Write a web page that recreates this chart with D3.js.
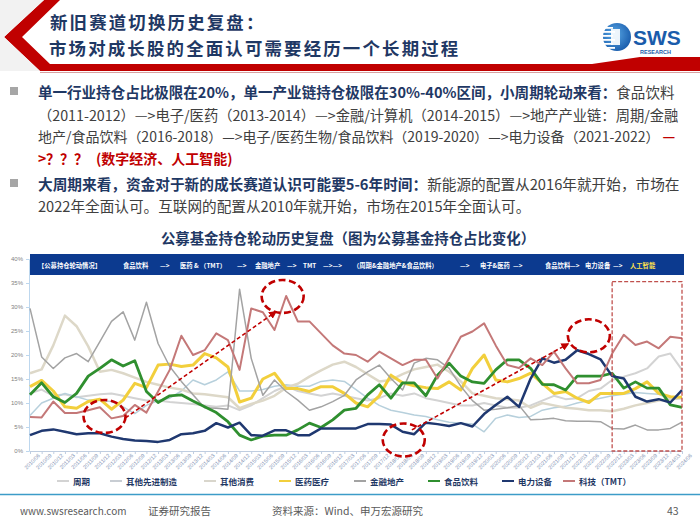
<!DOCTYPE html>
<html><head><meta charset="utf-8">
<script src="https://cdn.jsdelivr.net/npm/d3@7"></script>
<style>
body{margin:0;background:#fff;}
svg{display:block;font-family:"Noto Sans CJK SC","Noto Sans",sans-serif;}
</style></head><body>
<svg id="s" width="700" height="525"></svg>
<script>
// ---------------- DATA ----------------
const dates = ["2010/06","2010/09","2010/12",
"2011/03","2011/06","2011/09","2011/12","2012/03","2012/06","2012/09","2012/12",
"2013/03","2013/06","2013/09","2013/12","2014/03","2014/06","2014/09","2014/12",
"2015/03","2015/06","2015/09","2015/12","2016/03","2016/06","2016/09","2016/12",
"2017/03","2017/06","2017/09","2017/12","2018/03","2018/06","2018/09","2018/12",
"2019/03","2019/06","2019/09","2019/12","2020/03","2020/06","2020/09","2020/12",
"2021/03","2021/06","2021/09","2021/12","2022/03","2022/06","2022/09","2022/12",
"2023/03","2023/06","2023/09","2023/12","2024/03","2024/06"];

const seriesNames = ["周期","其他先进制造","其他消费","医药医疗","金融地产","食品饮料","电力设备","科技（TMT）"];

const cyclical = [12.0,12.8,11.5,11.8,11.2,11.5,11.8,12.0,11.5,11.0,
10.5,10.5,10.2,10.0,9.8,9.5,9.2,9.5,8.5,9.5,
11.0,12.5,13.5,12.5,12.0,11.5,12.0,11.5,11.0,10.5,
11.0,12.0,11.5,12.0,11.0,10.5,10.0,9.5,9.5,10.0,
9.5,9.0,9.0,9.5,10.5,11.5,10.8,11.0,12.5,13.0,
14.8,15.5,16.2,17.2,19.7,20.3,16.9];
const advancedMfg = [7.4,10.0,11.0,12.0,11.3,10.6,10.5,10.3,9.2,7.8,
9.5,10.5,11.0,12.5,14.8,13.8,14.8,16.5,12.5,12.5,
12.8,13.5,13.8,13.5,13.5,14.5,14.8,14.5,12.8,11.0,
9.5,8.5,8.0,7.5,7.2,6.5,6.0,5.8,5.6,4.0,
6.8,7.5,7.0,7.2,8.5,9.0,9.3,10.0,10.5,11.0,
11.5,11.8,12.2,12.0,11.8,10.8,11.2];
const otherConsumer = [16.2,17.0,22.0,28.2,26.0,21.8,16.5,16.9,16.2,15.3,
14.4,13.8,13.2,12.8,12.0,11.8,11.5,11.2,8.9,9.8,
10.5,11.5,13.2,14.0,15.5,16.8,18.0,18.6,17.5,16.0,
14.5,14.8,16.0,17.0,17.5,18.0,16.5,14.5,12.0,11.5,
11.0,10.8,10.5,9.0,10.0,9.5,9.0,8.8,8.5,8.5,
8.3,8.8,9.5,10.0,10.5,10.8,11.0];
const pharma = [13.4,14.7,12.5,9.2,8.9,10.3,10.8,8.7,10.6,14.1,
13.2,17.9,18.1,17.6,17.9,20.3,19.4,17.5,10.2,11.0,
15.0,16.2,13.0,13.0,12.4,13.4,13.4,12.0,10.0,9.2,
11.5,15.8,14.2,13.6,13.2,13.0,14.4,12.7,17.2,20.0,
14.8,14.4,15.1,16.2,14.1,12.0,12.4,11.0,10.1,12.0,
12.0,12.0,13.0,14.4,12.0,11.3,11.2];
const finance = [29.7,19.6,17.2,19.4,20.3,18.6,22.8,27.0,29.0,23.1,
31.0,22.4,17.6,14.5,11.7,9.0,8.9,8.7,33.7,19.3,
11.6,14.8,12.4,10.6,8.5,9.2,10.3,11.6,14.8,16.5,
17.9,15.1,12.7,18.3,19.3,19.0,17.2,13.5,10.5,8.5,
8.7,9.0,9.5,6.5,6.6,6.8,6.3,6.2,6.2,6.1,
4.7,4.6,5.4,4.4,4.4,4.7,6.0];
const foodBev = [11.7,14.2,11.3,10.1,12.0,15.6,17.2,19.0,17.7,18.8,
12.4,10.1,11.5,11.7,10.4,9.2,8.0,6.1,3.3,2.3,
3.1,3.3,3.3,4.4,5.8,4.9,6.5,8.5,8.9,11.7,
13.8,11.0,14.2,14.2,11.5,15.8,18.3,15.6,14.4,14.1,
16.9,19.0,19.0,17.2,13.9,13.8,12.7,15.6,15.6,15.6,
16.2,13.1,14.4,13.1,13.1,9.6,9.1];
const powerEquip = [3.3,4.2,4.5,4.0,3.5,3.7,3.7,3.0,2.5,2.2,
2.1,1.9,2.3,3.5,3.7,4.2,5.8,4.9,5.9,3.3,
3.2,4.3,4.3,3.3,3.3,4.7,4.7,4.7,4.7,5.6,
5.6,5.5,4.0,3.5,5.9,5.6,5.2,5.8,5.1,7.7,
9.6,11.3,9.2,15.1,19.3,18.4,19.0,21.0,20.2,19.1,
15.6,15.1,11.3,10.3,10.8,10.1,12.7];
const tmt = [7.1,7.0,10.3,7.9,7.9,8.5,9.1,6.8,7.3,9.6,
8.0,12.4,16.9,24.0,20.0,21.0,24.5,23.1,16.9,29.7,
28.9,25.2,32.3,27.0,27.0,24.5,22.0,20.3,20.0,18.6,
20.7,19.3,17.9,19.0,19.0,15.1,19.3,23.8,24.9,26.6,
22.0,17.9,17.3,19.3,17.9,20.7,17.2,14.1,14.1,14.8,
20.3,24.2,22.1,22.8,21.4,23.8,23.5];

const yTicks = [0,5,10,15,20,25,30,35,40];
const rotationSteps = ["【公募持仓轮动情况】","食品饮料","—>","医药 & （TMT）","—>","金融地产","—>","TMT","—>—>","（周期&金融地产&食品饮料）","—>","电子&医药","—>","食品饮料","—>","电力设备","—>","人工智能"];

// ---------------- STYLE / LAYOUT ----------------
const svg = d3.select("#s");
const NAVY = "#1f3864", RED = "#c00000", TXT = "#404040";
const seriesData = [cyclical, advancedMfg, otherConsumer, pharma, finance, foodBev, powerEquip, tmt];
const colors = ["#d3d3d3","#b7d0dc","#ddd8c8","#f2cf3c","#a3a3a3","#2f8f2f","#1f3870","#c47878"];
const widths = [2,1.5,2.5,3,1.5,2.8,2.5,2];
const legendColors = ["#d3d3d3","#c8cdd3","#d9d6cc","#f2cf3c","#a3a3a3","#2f8f2f","#1f3870","#c47878"];

// header graphics
svg.append("polygon")
  .attr("points","44,0 60,0 22,37 50,64 592,64 640,57 700,57 700,71 40,71 4,37")
  .attr("fill","#c00000");
svg.append("polygon").attr("points","0,0 44,0 4,37 40,71 0,71").attr("fill","#f2f2f2");
svg.append("line").attr("x1",40).attr("x2",700).attr("y1",72.5).attr("y2",72.5).attr("stroke","#d9a0a0").attr("stroke-width",1);

svg.append("text").attr("x",50).attr("y",21).attr("dominant-baseline","central")
  .attr("font-size",17.4).attr("letter-spacing",2.2).attr("font-weight","bold").attr("fill",NAVY).text("新旧赛道切换历史复盘：");
svg.append("text").attr("x",49).attr("y",47.5).attr("dominant-baseline","central")
  .attr("font-size",17.4).attr("letter-spacing",2.2).attr("font-weight","bold").attr("fill",NAVY).text("市场对成长股的全面认可需要经历一个长期过程");

// logo
const logo = svg.append("g");
const grad = svg.append("defs").append("radialGradient").attr("id","lg").attr("cx","40%").attr("cy","40%").attr("r","70%");
grad.append("stop").attr("offset","0%").attr("stop-color","#5aa9e6");
grad.append("stop").attr("offset","100%").attr("stop-color","#1456a8");
logo.append("circle").attr("cx",617).attr("cy",37).attr("r",14).attr("fill","url(#lg)");
[27,31,35,39,43,47].forEach((yy,k)=>{
  logo.append("rect").attr("x",603).attr("y",yy).attr("width",10+ (k%2)*2).attr("height",1.8).attr("fill","#fff");
});
logo.append("rect").attr("x",611).attr("y",29).attr("width",9).attr("height",16).attr("fill","#fff").attr("opacity",0.9);
logo.append("text").attr("x",633).attr("y",45).attr("font-size",21).attr("font-weight","bold")
  .attr("fill","#1a5cab").attr("font-family","Liberation Sans, Arial, sans-serif").text("SWS");
logo.append("text").attr("x",640).attr("y",54).attr("font-size",5.5).attr("font-weight","bold")
  .attr("fill","#1a5cab").attr("font-family","Liberation Sans, Arial, sans-serif").text("RESEARCH");

// bullets
const FS = 14;
function bullet(yy){ svg.append("rect").attr("x",10).attr("y",yy-4).attr("width",8).attr("height",8).attr("fill","#a6a6a6"); }
bullet(91); bullet(183);
function line(yy, parts, right){
  const t = svg.append("text").attr("x",38).attr("y",yy).attr("dominant-baseline","central").attr("font-size",FS);
  parts.forEach(p=>{
    const ts = t.append("tspan").attr("fill",p.c||TXT).attr("font-weight",p.b?"bold":"normal").text(p.t);
    if(p.x!==undefined) ts.attr("x",p.x);
  });
  if(right){
    const bb = t.node().getBBox();
    if(bb.width>0){ t.attr("font-size", FS * (right-38)/bb.width); }
  }
  return t;
}
line(91,[{t:"单一行业持仓占比极限在20%，单一产业链持仓极限在30%-40%区间，小周期轮动来看：",b:1,c:NAVY},{t:"食品饮料"}],675);
line(114,[{t:"（2011-2012）—>电子/医药（2013-2014）—>金融/计算机（2014-2015）—>地产产业链：周期/金融"}],679);
line(136,[{t:"地产/食品饮料（2016-2018）—>电子/医药生物/食品饮料（2019-2020）—>电力设备（2021-2022）"},{t:" —",b:1,c:RED}],676);
line(158,[{t:">",b:1,c:RED,x:38},{t:"？？？",b:1,c:RED,x:46},{t:"(数字经济、人工智能)",b:1,c:RED,x:96}]);
line(183,[{t:"大周期来看，资金对于新的成长赛道认识可能要5-6年时间：",b:1,c:NAVY},{t:"新能源的配置从2016年就开始，市场在"}],680);
line(205,[{t:"2022年全面认可。互联网的配置从2010年就开始，市场在2015年全面认可。"}],531);

// chart title
svg.append("text").attr("x",348).attr("y",237.5).attr("text-anchor","middle").attr("dominant-baseline","central")
  .attr("font-size",14.4).attr("font-weight","bold").attr("fill",NAVY).text("公募基金持仓轮动历史复盘（图为公募基金持仓占比变化）");

// ---------------- CHART ----------------
const x = d3.scalePoint().domain(dates).range([30,682]);
const y = d3.scaleLinear().domain([0,40]).range([451,259]);
const xi = i => x(dates[0]) + i * x.step();

// axes
const ya = svg.append("g").attr("transform","translate(29,0)")
  .call(d3.axisLeft(y).tickValues(yTicks).tickFormat(d=>d+"%").tickSize(3));
ya.selectAll("path,line").attr("stroke","#bdd7ee");
ya.selectAll("text").attr("font-size",6).attr("fill","#7f7f7f");
const xa = svg.append("g").attr("transform","translate(0,451)")
  .call(d3.axisBottom(x).tickSize(3).tickSizeOuter(0));
xa.selectAll("path,line").attr("stroke","#bfcde0");
xa.selectAll("text").attr("font-size",5.4).attr("fill","#7a8db0")
  .attr("text-anchor","end").attr("transform","translate(3,-2) rotate(-45)");

// band
svg.append("rect").attr("x",30).attr("y",254).attr("width",654).attr("height",21).attr("fill","#0c3a8f");
const stepX = [38,123,160,180,237,255,287,303,323,353,460,480,513,545,570,585,613,630];
svg.append("g").selectAll("text").data(rotationSteps).join("text")
  .attr("x",(d,i)=>stepX[i]).attr("y",265).attr("dominant-baseline","central")
  .attr("font-size",6.3).attr("font-weight","bold")
  .attr("fill",(d,i)=>i===rotationSteps.length-1?"#ffe14d":"#ffffff").text(d=>d);

// lines
const lineGen = d3.line().x((d,i)=>x(dates[i])).y(d=>y(d));
svg.append("g").selectAll("path").data(seriesData).join("path")
  .attr("d",lineGen).attr("fill","none")
  .attr("stroke",(d,i)=>colors[i]).attr("stroke-width",(d,i)=>widths[i])
  .attr("stroke-linejoin","round");

// annotations (data-space anchors)
const defs = svg.select("defs");
defs.append("marker").attr("id","ah").attr("viewBox","0 0 10 10").attr("refX",8).attr("refY",5)
  .attr("markerWidth",5).attr("markerHeight",5).attr("orient","auto")
  .append("path").attr("d","M0,0L10,5L0,10z").attr("fill",RED);
const ellipses = [[6.4,7.2],[21.7,32.2],[32.1,2.3],[48.0,24.0]];
svg.append("g").selectAll("ellipse").data(ellipses).join("ellipse")
  .attr("cx",d=>xi(d[0])).attr("cy",d=>y(d[1])).attr("rx",21).attr("ry",16.5)
  .attr("fill","none").attr("stroke",RED).attr("stroke-width",2.6).attr("stroke-dasharray","7,3.5");
const arrows = [[[8.2,6.9],[21.1,29.0]],[[32.8,4.4],[46.2,22.3]]];
svg.append("g").selectAll("line").data(arrows).join("line")
  .attr("x1",d=>xi(d[0][0])).attr("y1",d=>y(d[0][1])).attr("x2",d=>xi(d[1][0])).attr("y2",d=>y(d[1][1]))
  .attr("stroke",RED).attr("stroke-width",1.6).attr("stroke-dasharray","4,2.5").attr("marker-end","url(#ah)");
svg.append("rect").attr("x",xi(50)).attr("y",y(35.3)).attr("width",xi(56)-xi(50)).attr("height",y(0)-y(35.3))
  .attr("fill","none").attr("stroke","#c0504d").attr("stroke-width",1.3).attr("stroke-dasharray","4,2");

// legend
const legX = [57,110,204,279,354,428,502,563];
const lg = svg.append("g").selectAll("g").data(seriesNames).join("g")
  .attr("transform",(d,i)=>`translate(${legX[i]},481)`);
lg.append("line").attr("x1",0).attr("x2",12).attr("stroke",(d,i)=>legendColors[i]).attr("stroke-width",2);
lg.append("text").attr("x",16).attr("dominant-baseline","central").attr("font-size",8.5)
  .attr("font-weight","bold").attr("fill",NAVY).text(d=>d);

// footer
svg.append("line").attr("x1",0).attr("x2",700).attr("y1",494.5).attr("y2",494.5).attr("stroke","#3c9cc8").attr("stroke-width",1.5);
const ft = [[20,"www.swsresearch.com",10],[148,"证券研究报告",10.5],[272,"资料来源：Wind、申万宏源研究",10.5],[667,"43",10.5]];
svg.append("g").selectAll("text").data(ft).join("text").attr("x",d=>d[0]).attr("y",510)
  .attr("dominant-baseline","central").attr("font-size",d=>d[2]).attr("fill","#595959").text(d=>d[1]);
</script></body></html>
